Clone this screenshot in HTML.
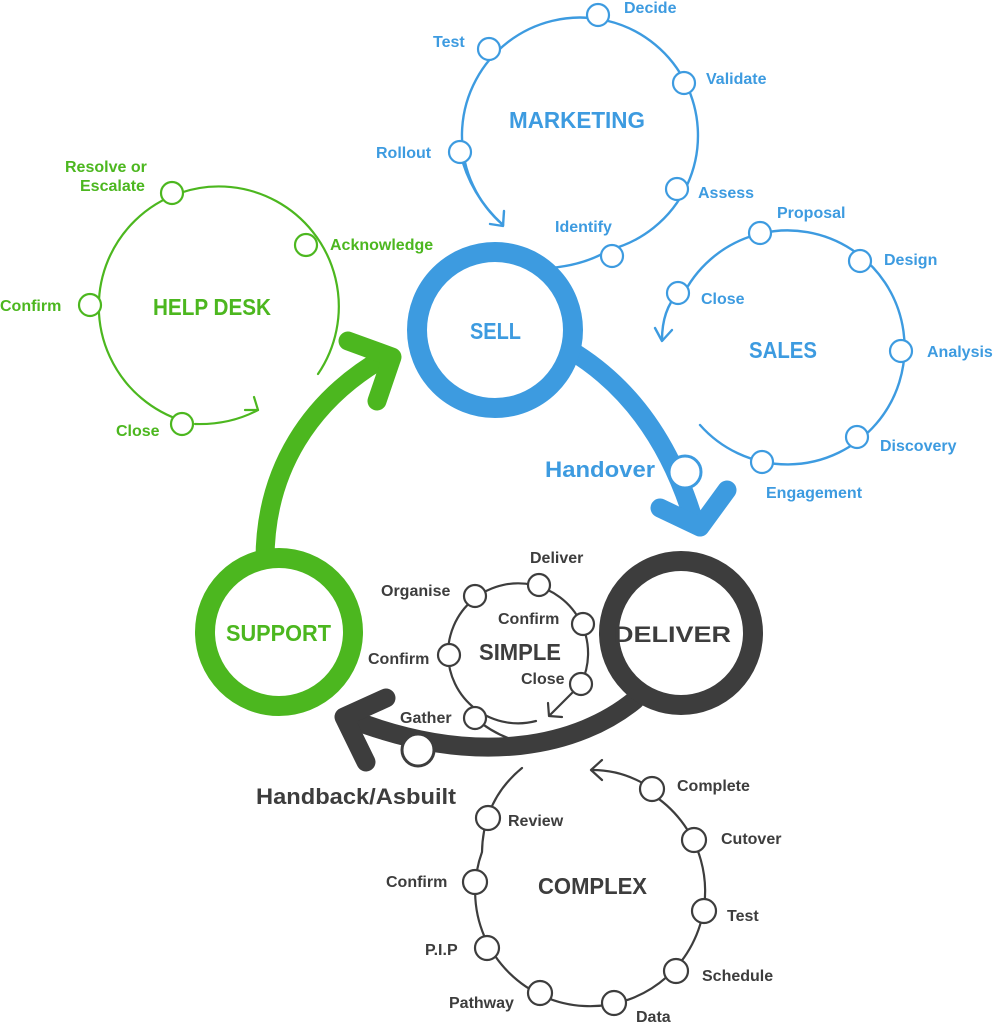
<!DOCTYPE html>
<html><head><meta charset="utf-8"><style>
html,body{margin:0;padding:0;background:#fff}
svg{display:block}
text{font-family:"Liberation Sans",sans-serif;font-weight:bold}
</style></head><body>
<svg width="995" height="1024" viewBox="0 0 995 1024">
<g fill="none" stroke-linecap="round" stroke-linejoin="round">
<!-- MARKETING -->
<g stroke="#3d9be0" stroke-width="2.4">
<path d="M503,225 A118,118 0 1 1 609.5,249.8 Q585,265 550,268"/>
<path d="M460,152 Q470,195 503,225"/>
<path d="M490,224 L503,226 L504,211"/>
<!-- SALES -->
<path d="M682,297 A117,117 0 1 1 700,425"/>
<path d="M678,293 Q662,310 662,340"/>
<path d="M655,328 L662,341 L672,330"/>
</g>
<!-- HELP DESK -->
<g stroke="#4cb71f" stroke-width="2.2">
<path d="M183,421 A120,120 0 1 1 318,374"/>
<path d="M195,424 Q230,425 258,410"/>
<path d="M245,410 L258,410 L254,397"/>
</g>
<!-- SIMPLE -->
<g stroke="#3d3d3d" stroke-width="2.2">
<path d="M536,721 A70,70 0 1 1 581,684"/>
<path d="M475,718 Q500,740 535,745"/>
<path d="M581,684 L550,715"/>
<path d="M548,703 L549,716 L562,717"/>
<!-- COMPLEX -->
<path d="M650,793 A115,115 0 1 1 482,852 Q483,800 522,768"/>
<path d="M652,789 Q625,770 592,770"/>
<path d="M602,760 L591,770 L602,780"/>
</g>
<!-- Big arrows -->
<path d="M265,560 C265,470 310,400 385,357" stroke="#4cb71f" stroke-width="19"/>
<path d="M348,341 L392,357 L377,401" stroke="#4cb71f" stroke-width="19"/>
<path d="M570,350 C620,380 665,430 692,515" stroke="#3d9be0" stroke-width="19"/>
<path d="M660,508 L700,527 L727,490" stroke="#3d9be0" stroke-width="19"/>
<path d="M635,700 C580,745 480,770 348,718" stroke="#3d3d3d" stroke-width="19"/>
<path d="M386,698 L344,717 L366,762" stroke="#3d3d3d" stroke-width="19"/>
<!-- Main circles -->
<circle cx="495" cy="330" r="78" stroke="#3d9be0" stroke-width="20" fill="#fff"/>
<circle cx="279" cy="632" r="74" stroke="#4cb71f" stroke-width="20" fill="#fff"/>
<circle cx="681" cy="633" r="72" stroke="#3d3d3d" stroke-width="20" fill="#fff"/>
</g>
<!-- nodes -->
<g fill="#fff" stroke-width="2.2">
<g stroke="#3d9be0">
<circle cx="598" cy="15" r="11"/><circle cx="489" cy="49" r="11"/><circle cx="684" cy="83" r="11"/>
<circle cx="460" cy="152" r="11"/><circle cx="677" cy="189" r="11"/><circle cx="612" cy="256" r="11"/>
<circle cx="760" cy="233" r="11"/><circle cx="860" cy="261" r="11"/><circle cx="678" cy="293" r="11"/>
<circle cx="901" cy="351" r="11"/><circle cx="857" cy="437" r="11"/><circle cx="762" cy="462" r="11"/>
<circle cx="685" cy="472" r="16" stroke-width="3"/>
</g>
<g stroke="#4cb71f">
<circle cx="172" cy="193" r="11"/><circle cx="306" cy="245" r="11"/><circle cx="90" cy="305" r="11"/><circle cx="182" cy="424" r="11"/>
</g>
<g stroke="#3d3d3d">
<circle cx="539" cy="585" r="11"/><circle cx="475" cy="596" r="11"/><circle cx="583" cy="624" r="11"/>
<circle cx="449" cy="655" r="11"/><circle cx="581" cy="684" r="11"/><circle cx="475" cy="718" r="11"/>
<circle cx="418" cy="750" r="16" stroke-width="3"/>
<circle cx="652" cy="789" r="12"/><circle cx="694" cy="840" r="12"/><circle cx="704" cy="911" r="12"/>
<circle cx="676" cy="971" r="12"/><circle cx="614" cy="1003" r="12"/><circle cx="540" cy="993" r="12"/>
<circle cx="487" cy="948" r="12"/><circle cx="475" cy="882" r="12"/><circle cx="488" cy="818" r="12"/>
</g>
</g>
<!-- text -->
<g fill="#3d9be0" font-size="16">
<text x="624" y="13">Decide</text><text x="433" y="47">Test</text><text x="706" y="84">Validate</text>
<text x="376" y="158">Rollout</text><text x="698" y="198">Assess</text><text x="555" y="232">Identify</text>
<text x="777" y="218">Proposal</text><text x="884" y="265">Design</text><text x="701" y="304">Close</text>
<text x="927" y="357">Analysis</text><text x="880" y="451">Discovery</text><text x="766" y="498">Engagement</text>
<text x="509" y="128" font-size="23" textLength="136" lengthAdjust="spacingAndGlyphs">MARKETING</text>
<text x="749" y="358" font-size="23" textLength="68" lengthAdjust="spacingAndGlyphs">SALES</text>
<text x="470" y="339" font-size="23" textLength="51" lengthAdjust="spacingAndGlyphs">SELL</text>
<text x="545" y="477" font-size="22" textLength="110" lengthAdjust="spacingAndGlyphs">Handover</text>
</g>
<g fill="#4cb71f" font-size="16">
<text x="65" y="172">Resolve or</text><text x="80" y="191">Escalate</text>
<text x="330" y="250">Acknowledge</text><text x="0" y="311">Confirm</text><text x="116" y="436">Close</text>
<text x="153" y="315" font-size="23" textLength="118" lengthAdjust="spacingAndGlyphs">HELP DESK</text>
<text x="226" y="641" font-size="23" textLength="105" lengthAdjust="spacingAndGlyphs">SUPPORT</text>
</g>
<g fill="#3d3d3d" font-size="16">
<text x="530" y="563">Deliver</text><text x="381" y="596">Organise</text><text x="498" y="624">Confirm</text>
<text x="368" y="664">Confirm</text><text x="521" y="684">Close</text><text x="400" y="723">Gather</text>
<text x="479" y="660" font-size="23" textLength="82" lengthAdjust="spacingAndGlyphs">SIMPLE</text>
<text x="614" y="642" font-size="22" textLength="117" lengthAdjust="spacingAndGlyphs">DELIVER</text>
<text x="256" y="804" font-size="22" textLength="200" lengthAdjust="spacingAndGlyphs">Handback/Asbuilt</text>
<text x="677" y="791">Complete</text><text x="721" y="844">Cutover</text><text x="727" y="921">Test</text>
<text x="702" y="981">Schedule</text><text x="636" y="1022">Data</text><text x="449" y="1008">Pathway</text>
<text x="425" y="955">P.I.P</text><text x="386" y="887">Confirm</text><text x="508" y="826">Review</text>
<text x="538" y="894" font-size="23" textLength="109" lengthAdjust="spacingAndGlyphs">COMPLEX</text>
</g>
</svg>
</body></html>
